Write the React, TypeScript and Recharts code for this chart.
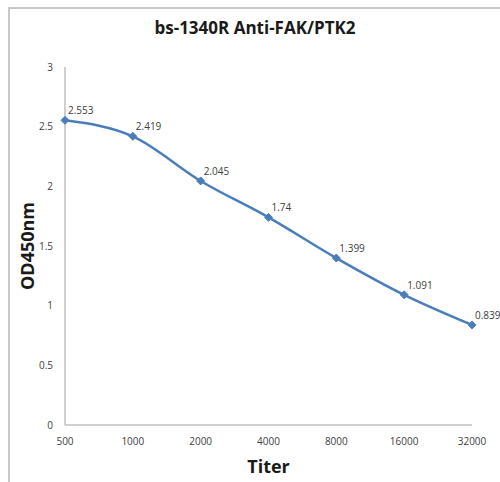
import type { JSX } from 'react'
import { LineChart, Line, XAxis, YAxis, LabelList, Label } from 'recharts'

const titers = ['500', '1000', '2000', '4000', '8000', '16000', '32000']
const od450 = [2.553, 2.419, 2.045, 1.74, 1.399, 1.091, 0.839]
const yTicks = [0, 0.5, 1, 1.5, 2, 2.5, 3]

const data = titers.map((titer, i) => ({ titer, od: od450[i] }))

const LINE = '#4a7ebb'
const FONT = '"Open Sans", sans-serif'

// diamond marker like the Excel default
const Diamond = (props: any): JSX.Element => {
  const { cx, cy } = props
  const r = 4
  return (
    <polygon
      points={`${cx},${cy - r} ${cx + r},${cy} ${cx},${cy + r} ${cx - r},${cy}`}
      fill={LINE}
      stroke={LINE}
    />
  )
}

const PointLabel = (props: any): JSX.Element => {
  const { x, y, value } = props
  return (
    <text x={x + 3} y={y - 6} fontSize={10} fill="#404040" fontFamily={FONT}>
      {value}
    </text>
  )
}

export default function App(): JSX.Element {
  return (
    <div
      style={{
        position: 'absolute',
        left: 0,
        top: 0,
        width: 500,
        height: 482,
        background: '#fff',
        fontFamily: FONT,
      }}
    >
      <div
        style={{
          position: 'absolute',
          left: 8,
          top: 7,
          right: 0,
          bottom: 0,
          borderTop: '2px solid #c8c8c8',
          borderLeft: '2px solid #c8c8c8',
        }}
      />
      <div
        style={{
          position: 'absolute',
          left: 0,
          top: 16,
          width: 510,
          textAlign: 'center',
          fontWeight: 'bold',
          fontSize: 17,
          color: '#1a1a1a',
        }}
      >
        bs-1340R Anti-FAK/PTK2
      </div>
      <LineChart
        width={500}
        height={482}
        data={data}
        margin={{ top: 67, right: 28, left: 0, bottom: 0 }}
        style={{ position: 'absolute', left: 0, top: 0 }}
      >
        <XAxis
          dataKey="titer"
          height={57}
          stroke="#a0a0a0"
          tickLine={false}
          tickMargin={7}
          tick={{ fill: '#404040', fontSize: 10, fontFamily: FONT }}
          interval={0}
        >
          <Label
            value="Titer"
            position="insideBottom"
            offset={9}
            style={{ fontWeight: 'bold', fontSize: 18, fill: '#1a1a1a', fontFamily: FONT }}
          />
        </XAxis>
        <YAxis
          width={65}
          domain={[0, 3]}
          ticks={yTicks}
          stroke="#a0a0a0"
          tickLine={false}
          tickMargin={6}
          tick={{ fill: '#404040', fontSize: 10, fontFamily: FONT }}
        >
          <Label
            value="OD450nm"
            angle={-90}
            position="insideLeft"
            offset={28}
            style={{
              fontWeight: 'bold',
              fontSize: 18,
              fill: '#1a1a1a',
              fontFamily: FONT,
              textAnchor: 'middle',
            }}
          />
        </YAxis>
        <Line
          type="monotone"
          dataKey="od"
          stroke={LINE}
          strokeWidth={2.5}
          dot={<Diamond />}
          activeDot={false}
          isAnimationActive={false}
        >
          <LabelList dataKey="od" content={<PointLabel />} />
        </Line>
      </LineChart>
    </div>
  )
}
